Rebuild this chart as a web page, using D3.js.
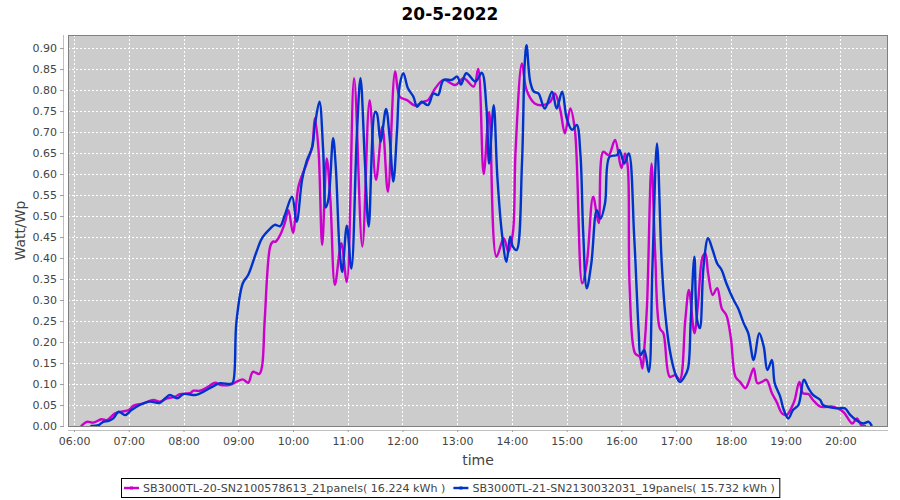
<!DOCTYPE html>
<html>
<head>
<meta charset="utf-8">
<script src="https://cdn.jsdelivr.net/npm/d3@7"></script>
<style>
  html, body { margin: 0; padding: 0; background: #ffffff; }
  svg { display: block; }
</style>
</head>
<body>
<svg id="chart" width="900" height="500"></svg>
<script>
const title = "20-5-2022";
const xLabel = "time";
const yLabel = "Watt/Wp";
const seriesNames = [
  "SB3000TL-20-SN2100578613_21panels( 16.224 kWh )",
  "SB3000TL-21-SN2130032031_19panels( 15.732 kWh )"
];
const seriesColors = ["#cc00cc", "#0033cc"];
const yTicks = [0.00,0.05,0.10,0.15,0.20,0.25,0.30,0.35,0.40,0.45,0.50,0.55,0.60,0.65,0.70,0.75,0.80,0.85,0.90];
const xTickLabels = ["06:00","07:00","08:00","09:00","10:00","11:00","12:00","13:00","14:00","15:00","16:00","17:00","18:00","19:00","20:00"];

const times20 = ["06:08","06:14","06:21","06:30","06:36","06:45","06:52","07:00","07:05","07:16","07:27","07:34","07:42","07:51","07:56","08:07","08:11","08:18","08:25","08:35","08:40","08:51","09:05","09:11","09:16","09:23","09:26","09:29","09:35","09:38","09:41","09:46","09:51","09:55","10:00","10:06","10:15","10:21","10:24","10:28","10:32","10:37","10:41","10:46","10:53","10:59","11:07","11:16","11:24","11:31","11:38","11:44","11:52","11:57","12:05","12:14","12:23","12:28","12:36","12:45","12:58","13:07","13:18","13:23","13:29","13:35","13:43","13:51","13:56","14:01","14:04","14:11","14:16","14:25","14:34","14:42","14:47","14:53","14:58","15:04","15:09","15:17","15:22","15:29","15:35","15:40","15:46","15:53","16:00","16:04","16:07","16:09","16:15","16:20","16:23","16:25","16:28","16:33","16:37","16:42","16:46","16:53","16:59","17:04","17:10","17:14","17:20","17:24","17:29","17:32","17:35","17:40","17:45","17:50","17:55","18:00","18:05","18:10","18:16","18:19","18:25","18:29","18:34","18:39","18:45","18:50","18:56","19:01","19:07","19:10","19:15","19:19","19:25","19:30","19:38","19:52","20:03","20:13","20:18","20:23","20:27"];
const values20 = [0.000,0.010,0.008,0.016,0.014,0.030,0.034,0.038,0.048,0.054,0.062,0.058,0.066,0.070,0.076,0.078,0.084,0.084,0.091,0.103,0.098,0.098,0.111,0.103,0.129,0.124,0.141,0.252,0.427,0.439,0.439,0.455,0.483,0.514,0.460,0.570,0.625,0.665,0.733,0.657,0.431,0.637,0.538,0.336,0.435,0.343,0.828,0.427,0.776,0.586,0.713,0.558,0.844,0.784,0.776,0.763,0.772,0.776,0.804,0.824,0.812,0.828,0.808,0.850,0.600,0.748,0.403,0.447,0.415,0.459,0.657,0.863,0.800,0.768,0.764,0.772,0.792,0.752,0.697,0.756,0.705,0.340,0.387,0.546,0.483,0.653,0.645,0.681,0.614,0.649,0.617,0.332,0.173,0.165,0.137,0.181,0.284,0.625,0.411,0.233,0.221,0.117,0.121,0.110,0.252,0.324,0.221,0.292,0.403,0.411,0.364,0.312,0.328,0.280,0.264,0.209,0.117,0.105,0.090,0.102,0.137,0.102,0.105,0.110,0.078,0.058,0.030,0.026,0.046,0.062,0.105,0.078,0.076,0.062,0.046,0.046,0.034,0.006,0.018,0.002,0.000];

const times21 = ["06:19","06:27","06:32","06:38","06:43","06:49","06:56","07:03","07:12","07:23","07:34","07:40","07:45","07:53","08:00","08:14","08:22","08:33","08:40","08:51","08:54","08:58","09:05","09:11","09:20","09:26","09:35","09:40","09:46","09:51","09:59","10:04","10:10","10:15","10:21","10:24","10:29","10:33","10:36","10:39","10:44","10:47","10:51","10:54","10:59","11:04","11:10","11:14","11:19","11:23","11:30","11:32","11:36","11:42","11:46","11:50","11:54","11:57","12:01","12:06","12:12","12:16","12:21","12:28","12:34","12:39","12:45","12:54","13:00","13:04","13:10","13:20","13:27","13:32","13:35","13:40","13:44","13:49","13:54","13:58","14:01","14:05","14:11","14:14","14:16","14:20","14:24","14:29","14:36","14:44","14:49","14:55","15:00","15:06","15:11","15:15","15:18","15:22","15:27","15:33","15:37","15:42","15:47","15:55","15:58","16:03","16:08","16:14","16:19","16:21","16:25","16:30","16:34","16:39","16:44","16:48","16:53","16:59","17:04","17:09","17:13","17:16","17:20","17:23","17:26","17:30","17:35","17:40","17:45","17:50","17:55","18:03","18:08","18:14","18:19","18:25","18:31","18:36","18:40","18:45","18:48","18:54","18:58","19:03","19:08","19:14","19:20","19:25","19:30","19:38","19:41","19:56","20:05","20:11","20:20","20:25","20:31","20:34"];
const values21 = [0.000,0.002,0.010,0.012,0.018,0.034,0.026,0.038,0.050,0.058,0.055,0.066,0.074,0.066,0.076,0.074,0.082,0.095,0.102,0.100,0.103,0.248,0.340,0.360,0.415,0.447,0.470,0.479,0.476,0.502,0.546,0.486,0.586,0.631,0.663,0.716,0.772,0.660,0.520,0.542,0.685,0.614,0.423,0.367,0.477,0.375,0.693,0.828,0.621,0.475,0.748,0.744,0.677,0.755,0.685,0.582,0.701,0.812,0.840,0.804,0.784,0.760,0.772,0.764,0.792,0.788,0.824,0.824,0.832,0.813,0.840,0.820,0.841,0.760,0.625,0.764,0.594,0.459,0.391,0.451,0.427,0.419,0.625,0.863,0.907,0.820,0.796,0.792,0.756,0.796,0.756,0.796,0.733,0.705,0.717,0.649,0.467,0.328,0.387,0.514,0.494,0.530,0.641,0.645,0.657,0.625,0.649,0.451,0.221,0.169,0.181,0.129,0.379,0.673,0.395,0.268,0.181,0.125,0.105,0.117,0.137,0.252,0.403,0.252,0.233,0.379,0.447,0.419,0.387,0.371,0.340,0.300,0.280,0.245,0.221,0.157,0.221,0.189,0.133,0.157,0.102,0.070,0.038,0.018,0.038,0.050,0.110,0.090,0.074,0.062,0.050,0.042,0.042,0.026,0.010,0.006,0.010,0.002];

const xDomainStart = "05:53:24";
const xDomainEnd = "20:52:12";
const yMax = 0.931;

// ---- layout ----
const plot = { left: 68, top: 35, right: 888, bottom: 426 };
const svg = d3.select("#chart");
const parseHM = d3.timeParse("%H:%M");
const parseHMS = d3.timeParse("%H:%M:%S");

const x = d3.scaleTime()
  .domain([parseHMS(xDomainStart), parseHMS(xDomainEnd)])
  .range([plot.left, plot.right]);
const y = d3.scaleLinear().domain([0, yMax]).range([plot.bottom, plot.top]);

const tickFont = "DejaVu Sans";
const tickColor = "#444444";

// plot background
svg.append("rect")
  .attr("x", plot.left).attr("y", plot.top)
  .attr("width", plot.right - plot.left).attr("height", plot.bottom - plot.top)
  .attr("fill", "#cccccc");

// gridlines
const xTickDates = xTickLabels.map(parseHM);
svg.append("g").selectAll("line").data(xTickDates).join("line")
  .attr("x1", d => Math.round(x(d)) + 0.5).attr("x2", d => Math.round(x(d)) + 0.5)
  .attr("y1", plot.top).attr("y2", plot.bottom)
  .attr("stroke", "#ffffff").attr("stroke-width", 1).attr("stroke-dasharray", "2,2");
svg.append("g").selectAll("line").data(yTicks).join("line")
  .attr("x1", plot.left).attr("x2", plot.right)
  .attr("y1", d => Math.round(y(d)) + 0.5).attr("y2", d => Math.round(y(d)) + 0.5)
  .attr("stroke", "#ffffff").attr("stroke-width", 1).attr("stroke-dasharray", "2,2");

// series
const line = d3.line()
  .x(d => x(d[0])).y(d => y(d[1]))
  .curve(d3.curveCatmullRom.alpha(0.5));

const series = [
  { times: times20, values: values20 },
  { times: times21, values: values21 }
];
svg.append("clipPath").attr("id", "pclip").append("rect")
  .attr("x", plot.left).attr("y", plot.top)
  .attr("width", plot.right - plot.left).attr("height", plot.bottom - plot.top);
const gLines = svg.append("g").attr("clip-path", "url(#pclip)");
series.forEach((s, i) => {
  const pts = s.times.map((t, j) => [parseHM(t), s.values[j]]);
  gLines.append("path")
    .attr("d", line(pts))
    .attr("fill", "none")
    .attr("stroke", seriesColors[i])
    .attr("stroke-width", 2.4)
    .attr("stroke-linejoin", "round")
    .attr("stroke-linecap", "round");
});

// plot outline
svg.append("rect")
  .attr("x", plot.left + 0.5).attr("y", plot.top + 0.5)
  .attr("width", plot.right - plot.left - 1).attr("height", plot.bottom - plot.top)
  .attr("fill", "none").attr("stroke", "#808080").attr("stroke-width", 1);

// axes (offset by 4px, like the source)
const xAxis = d3.axisBottom(x)
  .tickValues(xTickDates)
  .tickFormat(d3.timeFormat("%H:%M"))
  .tickSizeInner(2).tickSizeOuter(0).tickPadding(5);
const gx = svg.append("g").attr("transform", `translate(0,${plot.bottom + 4})`).call(xAxis);
gx.select(".domain").attr("stroke", "#c0c0c0").attr("d", `M${plot.left},0.5H${plot.right}`);
gx.selectAll(".tick line").attr("stroke", "#a0a0a0");
gx.selectAll(".tick text").attr("fill", tickColor).attr("font-family", tickFont).attr("font-size", 11);

const yAxis = d3.axisLeft(y)
  .tickValues(yTicks)
  .tickFormat(d3.format(".2f"))
  .tickSizeInner(4).tickSizeOuter(0).tickPadding(3);
const gy = svg.append("g").attr("transform", `translate(${plot.left - 4},0)`).call(yAxis);
gy.select(".domain").attr("stroke", "#c0c0c0").attr("d", `M-0.5,${plot.top}V${plot.bottom}`);
gy.selectAll(".tick line").attr("stroke", "#a0a0a0");
gy.selectAll(".tick text").attr("fill", tickColor).attr("font-family", tickFont).attr("font-size", 11);

// title
svg.append("text")
  .attr("x", 450).attr("y", 20)
  .attr("text-anchor", "middle")
  .attr("font-family", "DejaVu Sans").attr("font-weight", "bold").attr("font-size", 17)
  .attr("fill", "#000000")
  .text(title);

// axis labels
svg.append("text")
  .attr("x", (plot.left + plot.right) / 2).attr("y", 465)
  .attr("text-anchor", "middle")
  .attr("font-family", "DejaVu Sans").attr("font-size", 14)
  .attr("fill", "#444444")
  .text(xLabel);
svg.append("text")
  .attr("transform", `translate(25,${(plot.top + plot.bottom) / 2}) rotate(-90)`)
  .attr("text-anchor", "middle")
  .attr("font-family", "DejaVu Sans").attr("font-size", 14)
  .attr("fill", "#444444")
  .text(yLabel);

// legend
const legend = svg.append("g");
const legendBox = legend.append("rect")
  .attr("fill", "#ffffff").attr("stroke", "#000000").attr("stroke-width", 1);
let cx = 124;
const ly = 488;
seriesNames.forEach((name, i) => {
  legend.append("line")
    .attr("x1", cx).attr("x2", cx + 15).attr("y1", ly).attr("y2", ly)
    .attr("stroke", seriesColors[i]).attr("stroke-width", 2.4);
  legend.append("rect")
    .attr("x", cx + 6).attr("y", ly - 1.5).attr("width", 3).attr("height", 3)
    .attr("fill", seriesColors[i]);
  const t = legend.append("text")
    .attr("x", cx + 19).attr("y", ly + 4)
    .attr("font-family", "DejaVu Sans").attr("font-size", 11.1)
    .attr("fill", "#444444")
    .text(name);
  const w = t.node().getComputedTextLength();
  cx = cx + 19 + w + 8;
});
legendBox.attr("x", 121.5).attr("y", 478.5).attr("width", cx - 8 + 5 - 121.5).attr("height", 19);
</script>
</body>
</html>
